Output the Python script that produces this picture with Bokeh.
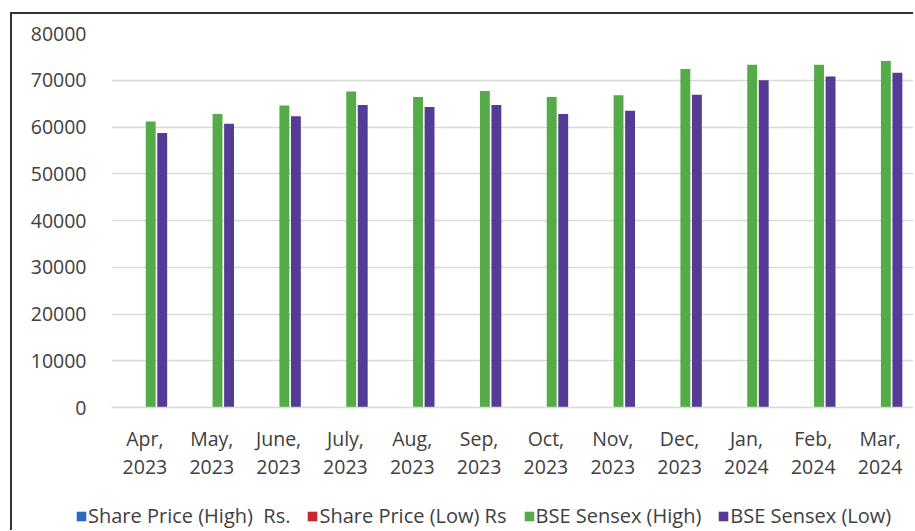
from bokeh.plotting import figure
from bokeh.layouts import column
from bokeh.models import (ColumnDataSource, Range1d, FactorRange, Legend, LegendItem,
                          SingleIntervalTicker, NumeralTickFormatter)
from bokeh.transform import dodge
from bokeh.embed import file_html
from bokeh.resources import INLINE

months = ["Apr,\n2023", "May,\n2023", "June,\n2023", "July,\n2023", "Aug,\n2023", "Sep,\n2023",
          "Oct,\n2023", "Nov,\n2023", "Dec,\n2023", "Jan,\n2024", "Feb,\n2024", "Mar,\n2024"]
# Share price bars are too small to be visible at this scale
share_high = [30, 32, 33, 35, 34, 33, 31, 30, 34, 37, 36, 35]
share_low = [26, 28, 29, 31, 30, 29, 27, 26, 30, 32, 31, 30]
sensex_high = [61200, 62800, 64600, 67600, 66400, 67700, 66400, 66800, 72400, 73300, 73300, 74100]
sensex_low = [58700, 60700, 62300, 64700, 64300, 64700, 62800, 63500, 66900, 70000, 70800, 71600]

series_names = ["Share Price (High)  Rs.", "Share Price (Low) Rs", "BSE Sensex (High)", "BSE Sensex (Low)"]
colors = ["#2E6BC0", "#C8282D", "#55AB47", "#533B96"]
fields = ["sh", "sl", "bh", "bl"]
offsets = [-0.259, -0.0865, 0.0865, 0.259]

src = ColumnDataSource(dict(month=months, sh=share_high, sl=share_low, bh=sensex_high, bl=sensex_low))

FONT = "Open Sans"
TXT = "#404040"

# ---- main chart ----
p = figure(x_range=FactorRange(*months), y_range=Range1d(0, 80000),
           width=901, height=474, output_backend="svg", toolbar_location=None,
           min_border_left=99, min_border_right=0, min_border_top=19, min_border_bottom=81)
p.outline_line_color = None
p.background_fill_color = "white"
p.border_fill_color = "white"

for f, off, c in zip(fields, offsets, colors):
    p.vbar(x=dodge("month", off, range=p.x_range), top=f, width=0.148, source=src,
           fill_color=c, line_color=None)

p.xgrid.grid_line_color = None
p.ygrid.grid_line_color = "#d9d9d9"
p.ygrid.grid_line_width = 1.3
p.yaxis.ticker = SingleIntervalTicker(interval=10000)
p.yaxis.formatter = NumeralTickFormatter(format="0")
p.yaxis.axis_line_color = None
p.yaxis.major_tick_line_color = None
p.yaxis.minor_tick_line_color = None
p.yaxis.major_label_standoff = 19
p.yaxis.major_label_text_font = FONT
p.yaxis.major_label_text_font_size = "19.5px"
p.yaxis.major_label_text_color = TXT

p.xaxis.axis_line_color = "#d9d9d9"
p.xaxis.axis_line_width = 1.3
p.xaxis.major_tick_line_color = None
p.xaxis.minor_tick_line_color = None
p.xaxis.major_label_standoff = 11
p.xaxis.major_label_text_font = FONT
p.xaxis.major_label_text_font_size = "19.5px"
p.xaxis.major_label_text_color = TXT
p.xaxis.major_label_text_line_height = 1.06

# ---- legend strip (its bars lie below its visible y range; only the legend shows) ----
lg = figure(x_range=FactorRange(*months), y_range=Range1d(100000, 200000), width=901, height=42,
            output_backend="svg", toolbar_location=None,
            x_axis_location=None, y_axis_location=None, min_border=0)
lg.frame_align = False
lg.outline_line_color = None
lg.xgrid.grid_line_color = None
lg.ygrid.grid_line_color = None
lg.border_fill_color = "white"

leg_renderers = []
for f, off, c in zip(fields, offsets, colors):
    r = lg.vbar(x=dodge("month", off, range=lg.x_range), top=f, width=0.148, source=src,
                fill_color=c, line_color=None)
    leg_renderers.append(r)

legend = Legend(items=[LegendItem(label=n, renderers=[r]) for n, r in zip(series_names, leg_renderers)],
                orientation="horizontal", location=(63, 1),
                label_text_font=FONT, label_text_font_size="20px", label_text_color=TXT,
                glyph_width=12, glyph_height=12, label_standoff=1, spacing=16,
                border_line_color=None, background_fill_alpha=0, margin=0, padding=0)
lg.add_layout(legend, "center")

layout = column(p, lg, spacing=0, margin=(12, 0, 0, 10),
                styles={"border-left": "2px solid #333333", "border-top": "2px solid #333333"})

open("out.html", "w").write(file_html(layout, INLINE))
